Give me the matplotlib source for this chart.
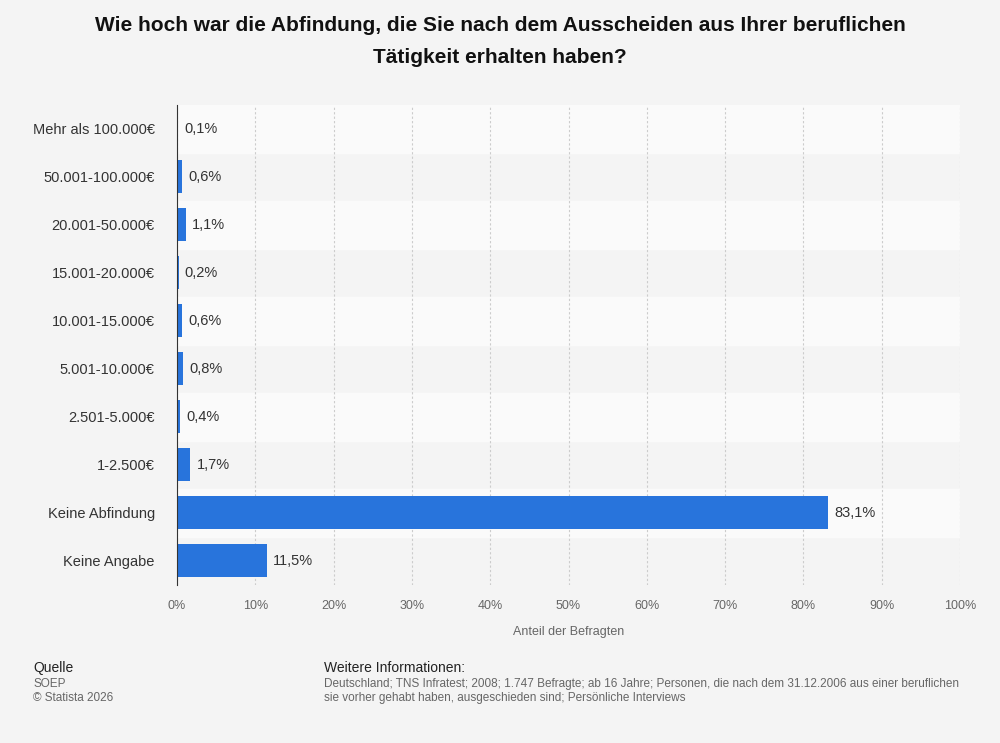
import matplotlib.pyplot as plt

categories = ["Mehr als 100.000€", "50.001-100.000€", "20.001-50.000€", "15.001-20.000€",
              "10.001-15.000€", "5.001-10.000€", "2.501-5.000€", "1-2.500€",
              "Keine Abfindung", "Keine Angabe"]
values = [0.1, 0.6, 1.1, 0.2, 0.6, 0.8, 0.4, 1.7, 83.1, 11.5]
xticks = list(range(0, 101, 10))

plt.rcParams["font.family"] = ["Liberation Sans", "DejaVu Sans"]
fig = plt.figure(figsize=(10, 7.43), dpi=100)
fig.patch.set_facecolor("#f4f4f4")
ax = fig.add_axes([0.177, 0.213, 0.783, 0.646])
ax.set_facecolor("#f4f4f4")

n = len(categories)
ys = list(range(n))
for i in ys:
    if i % 2 == 0:
        ax.axhspan(i - 0.5, i + 0.5, color="#fafafa", zorder=0)

ax.barh(ys, values, height=0.68, color="#2874dc", zorder=3)
for y, v in zip(ys, values):
    ax.text(v + 0.8, y, f"{v:.1f}".replace(".", ",") + "%", va="center",
            ha="left", fontsize=10.5, color="#333333", zorder=4)

ax.set_ylim(n - 0.5, -0.5)
ax.set_xlim(0, 100)
ax.set_yticks(ys)
ax.set_yticklabels(categories, fontsize=10.5, color="#333333")
ax.set_xticks(xticks)
ax.set_xticklabels([f"{t}%" for t in xticks], fontsize=9, color="#666666")
ax.tick_params(length=0, pad=11)
ax.tick_params(axis="y", pad=16)
ax.xaxis.grid(True, color="#cccccc", linestyle=(0, (2, 2)), linewidth=0.8, zorder=1)
for s in ["top", "right", "bottom"]:
    ax.spines[s].set_visible(False)
ax.spines["left"].set_color("#333333")
ax.spines["left"].set_zorder(5)
ax.set_xlabel("Anteil der Befragten", fontsize=9, color="#666666", labelpad=10)

fig.text(0.5, 0.979, "Wie hoch war die Abfindung, die Sie nach dem Ausscheiden aus Ihrer beruflichen\nTätigkeit erhalten haben?",
         ha="center", va="top", fontsize=15, fontweight="bold", color="#111111", linespacing=1.9)

fig.text(0.033, 0.095, "Quelle", fontsize=10, color="#222222")
fig.text(0.033, 0.075, "SOEP", fontsize=8.5, color="#666666")
fig.text(0.033, 0.056, "© Statista 2026", fontsize=8.5, color="#666666")
fig.text(0.324, 0.095, "Weitere Informationen:", fontsize=10, color="#222222")
fig.text(0.324, 0.075, "Deutschland; TNS Infratest; 2008; 1.747 Befragte; ab 16 Jahre; Personen, die nach dem 31.12.2006 aus einer beruflichen",
         fontsize=8.5, color="#666666")
fig.text(0.324, 0.056, "sie vorher gehabt haben, ausgeschieden sind; Persönliche Interviews", fontsize=8.5, color="#666666")

fig.savefig("out.png", dpi=100, facecolor=fig.get_facecolor())
